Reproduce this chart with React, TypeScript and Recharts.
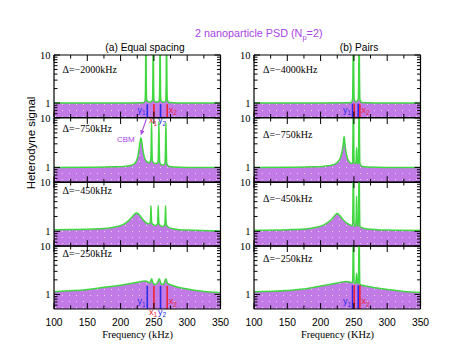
import { Area, ComposedChart, ReferenceLine, XAxis, YAxis } from "recharts"

// frequency grid (kHz) and heterodyne signal for each panel
const freqA1 = [100, 200, 230, 235, 236.8, 237.5, 238, 238.5, 239.2, 242, 245, 247.8, 248.5, 249, 249.5, 250.2, 253, 256, 258.1, 258.8, 259.3, 259.8, 260.5, 263, 266, 267.8, 268.5, 269, 269.5, 270.2, 273, 300, 350]
const sigA1 = [1, 1, 1.01, 1.03, 1.15, 3, 40, 3, 1.15, 1.05, 1.05, 1.15, 3, 40, 3, 1.15, 1.05, 1.05, 1.15, 3, 40, 3, 1.15, 1.05, 1.05, 1.15, 3, 40, 3, 1.15, 1.03, 1, 1]

const freqA2 = [100, 150, 190, 205, 215, 220, 224, 226, 228, 229.5, 230.5, 231.5, 233, 235, 237, 240, 243, 245.2, 245.9, 246.5, 247.1, 247.8, 251, 254, 256.2, 256.9, 257.5, 258.1, 258.8, 262, 265, 266.7, 267.4, 268, 268.6, 269.3, 272, 280, 300, 350]
const sigA2 = [1.0, 1.01, 1.03, 1.05, 1.09, 1.16, 1.38, 1.7, 2.5, 3.5, 4.0, 3.5, 2.5, 1.75, 1.45, 1.3, 1.25, 1.4, 2.5, 8.3, 2.5, 1.35, 1.2, 1.2, 1.3, 2.5, 8.5, 2.5, 1.25, 1.12, 1.12, 1.25, 2.5, 8.0, 2.5, 1.2, 1.06, 1.02, 1.0, 1.0]

const freqA3 = [100, 150, 180, 195, 205, 212, 218, 222, 224, 226, 230, 234, 238, 242, 244.4, 245.1, 245.6, 246.1, 246.8, 249, 252, 255.3, 256, 256.5, 257, 257.7, 260, 263, 266.3, 267, 267.5, 268, 268.7, 272, 280, 300, 350]
const sigA3 = [1.08, 1.1, 1.15, 1.25, 1.4, 1.65, 2.0, 2.3, 2.35, 2.3, 2.0, 1.7, 1.5, 1.42, 1.5, 2.1, 3.3, 2.1, 1.5, 1.36, 1.32, 1.42, 2.0, 3.3, 2.0, 1.42, 1.3, 1.25, 1.35, 1.95, 3.3, 1.95, 1.35, 1.2, 1.12, 1.06, 1.02]

const freqA4 = [100, 130, 150, 175, 200, 215, 225, 232, 237, 241, 244, 246.5, 249, 252, 255.5, 258, 260.5, 263, 265.5, 267.8, 270.5, 275, 285, 300, 320, 350]
const sigA4 = [1.14, 1.2, 1.27, 1.4, 1.55, 1.68, 1.78, 1.86, 1.9, 1.82, 1.72, 2.1, 1.68, 1.6, 1.75, 2.1, 1.7, 1.6, 1.72, 2.1, 1.7, 1.58, 1.42, 1.3, 1.18, 1.08]

const freqB1 = [100, 200, 240, 246, 248, 248.6, 249.2, 249.8, 250.4, 253, 256.6, 257.2, 257.8, 258.4, 259, 262, 300, 350]
const sigB1 = [1, 1, 1.01, 1.03, 1.2, 4, 40, 4, 1.2, 1.06, 1.2, 4, 40, 4, 1.2, 1.03, 1, 1]

const freqB2 = [100, 150, 190, 205, 215, 222, 227, 230, 232.5, 234, 235.3, 236.5, 238, 240.5, 243, 246, 248, 248.6, 249.2, 249.8, 250.4, 252.5, 253.4, 254, 254.6, 255.5, 256.6, 257.2, 257.8, 258.4, 259, 262, 270, 300, 350]
const sigB2 = [1.0, 1.01, 1.03, 1.06, 1.1, 1.18, 1.35, 1.6, 2.2, 3.0, 4.2, 3.0, 2.1, 1.5, 1.3, 1.2, 1.25, 4, 40, 4, 1.25, 1.2, 1.4, 2.5, 1.4, 1.2, 1.25, 4, 40, 4, 1.2, 1.06, 1.02, 1.0, 1.0]

const freqB3 = [100, 150, 180, 195, 205, 212, 218, 222, 225, 228, 232, 236, 240, 244, 248, 248.6, 249.2, 249.8, 250.4, 252.5, 253.4, 254, 254.6, 255.5, 256.6, 257.2, 257.8, 258.4, 259, 262, 270, 285, 300, 350]
const sigB3 = [1.05, 1.08, 1.13, 1.22, 1.35, 1.55, 1.85, 2.15, 2.3, 2.15, 1.85, 1.6, 1.45, 1.35, 1.3, 4, 40, 4, 1.3, 1.28, 1.8, 5.2, 1.8, 1.28, 1.28, 4, 40, 4, 1.25, 1.18, 1.12, 1.08, 1.06, 1.04]

const freqB4 = [100, 150, 180, 200, 215, 225, 232, 238, 243, 248, 248.6, 249.2, 249.8, 250.4, 252.5, 253.4, 254, 254.6, 255.5, 256.6, 257.2, 257.8, 258.4, 259, 262, 270, 285, 300, 325, 350]
const sigB4 = [1.14, 1.21, 1.32, 1.49, 1.62, 1.72, 1.8, 1.85, 1.8, 1.75, 4, 40, 4, 1.72, 1.7, 2.1, 2.7, 2.1, 1.7, 1.68, 4, 40, 4, 1.62, 1.55, 1.48, 1.35, 1.27, 1.15, 1.09]

const deltaA = ["−2000", "−750", "−450", "−250"]
const deltaB = ["−4000", "−750", "−450", "−250"]

// mode positions marked in the top and bottom panels
const markerFreqA = [240, 250, 260, 270]
const markerFreqB = [248, 250.5, 256.5, 259]
const markerNames = ["y1", "x1", "y2", "x2"]

const xTicks = [100, 125, 150, 175, 200, 225, 250, 275, 300, 325, 350]
const yTicks = [0.6, 0.7, 0.8, 0.9, 1, 2, 3, 4, 5, 6, 7, 8, 9, 10]

const SANS = "'Liberation Sans', Arial, Helvetica, sans-serif"
const SERIF = "'Liberation Serif', 'Times New Roman', serif"
const FILL = "#c27ae6"
const PURPLE = "#a843e6"
const GREEN = "#40d840"
const BLUE = "#2a2ae8"
const RED = "#ee2233"

const LEFTS = [54, 254]
const PW = 166.5
const TOPS = [55, 117.5, 181.8, 246]
const PH = [62.5, 64.3, 64.2, 63]
const deltaBaseA = [18, 14, 12.5, 11]
const deltaBaseB = [18, 20.5, 19.7, 15.5]

function XTickMark(props: any) {
  const { x, y, payload, side, labels } = props
  const major = payload.value % 50 === 0
  const len = major ? 6 : 3.5
  const d = side === "top" ? 1 : -1
  return (
    <g>
      <line x1={x} x2={x} y1={y} y2={y + d * len} stroke="#000" strokeWidth={1} />
      {labels && major && (
        <text x={x} y={y + 17} textAnchor="middle" fontFamily={SANS} fontSize={10.3} fill="#000">
          {payload.value}
        </text>
      )}
    </g>
  )
}

function YTickMark(props: any) {
  const { x, y, payload, side, labels } = props
  const v = payload.value
  const major = v === 1 || v === 10
  const len = major ? 6 : 3.5
  const d = side === "left" ? 1 : -1
  return (
    <g>
      <line x1={x} x2={x + d * len} y1={y} y2={y} stroke="#000" strokeWidth={1} />
      {labels && major && (
        <text x={x - 3.5} y={y} dy="0.36em" textAnchor="end" fontFamily={SERIF} fontSize={10.5} fill="#000">
          {v}
        </text>
      )}
    </g>
  )
}

function SubText({ x, y, name, color, anchor }: any) {
  return (
    <text x={x} y={y} fill={color} fontFamily={SANS} fontSize={9} textAnchor={anchor}>
      {name[0]}
      <tspan fontSize={6.5} dy={2.5}>
        {name[1]}
      </tspan>
    </text>
  )
}

function markerShape(name: string, idx: number, labelled: boolean) {
  const color = name[0] === "y" ? BLUE : RED
  return (p: any) => {
    const x = p.x1
    const top = Math.min(p.y1, p.y2)
    const bot = Math.max(p.y1, p.y2)
    let label = null
    if (labelled) {
      if (idx === 0) label = <SubText x={x - 1.5} y={bot - 5} name={name} color={color} anchor="end" />
      else if (idx === 3) label = <SubText x={x + 1.5} y={bot - 5} name={name} color={color} anchor="start" />
      else label = <SubText x={x - (idx === 1 ? 5 : 2.5)} y={bot + 5.5} name={name} color={color} anchor="start" />
    }
    return (
      <g>
        <line x1={x} x2={x} y1={top} y2={bot} stroke={color} strokeWidth={1.6} />
        {label}
      </g>
    )
  }
}

const cbmShape = (p: any) => {
  const { x1, y1, x2, y2 } = p
  const dx = x2 - x1
  const dy = y2 - y1
  const L = Math.hypot(dx, dy) || 1
  const ux = dx / L
  const uy = dy / L
  const bx = x2 - ux * 5
  const by = y2 - uy * 5
  const pts = `${x2},${y2} ${bx - uy * 2.2},${by + ux * 2.2} ${bx + uy * 2.2},${by - ux * 2.2}`
  return (
    <g>
      <line x1={x1} y1={y1} x2={bx} y2={by} stroke={PURPLE} strokeWidth={1.1} />
      <polygon points={pts} fill={PURPLE} />
      <text x={x2 - 6} y={y2 + 6.5} textAnchor="end" fontFamily={SANS} fontSize={8} fill={PURPLE}>
        CBM
      </text>
    </g>
  )
}

type PanelProps = {
  col: number
  row: number
  freq: number[]
  sig: number[]
  markers?: number[]
  markerTop?: number
  allLabels?: boolean
  cbm?: boolean
}

function Panel({ col, row, freq, sig, markers, markerTop, allLabels, cbm }: PanelProps) {
  const data = freq.map((f, i) => ({ f, s: sig[i] }))
  const id = `dots${col}${row}`
  const showX = row === 3
  const axisLine = { stroke: "#000", strokeWidth: 1.2 }
  return (
    <div style={{ position: "absolute", left: LEFTS[col] - 1, top: TOPS[row] - 1 }}>
      <ComposedChart width={PW + 2} height={PH[row] + 2} data={data} margin={{ top: 0, right: 0, bottom: 0, left: 0 }}>
        <defs>
          <pattern id={id} width="7" height="6" patternUnits="userSpaceOnUse">
            <rect width="7" height="6" fill={FILL} />
            <rect x="2" y="2" width="1" height="1" fill="#fff" opacity="0.65" />
          </pattern>
        </defs>
        <XAxis
          xAxisId={0}
          dataKey="f"
          type="number"
          domain={[100, 350]}
          allowDataOverflow
          ticks={xTicks}
          interval={0}
          height={1}
          tickSize={0}
          tickMargin={0}
          tickLine={false}
          axisLine={axisLine}
          tick={(p: any) => <XTickMark {...p} side="bottom" labels={showX} />}
        />
        <XAxis
          xAxisId="top"
          orientation="top"
          dataKey="f"
          type="number"
          domain={[100, 350]}
          allowDataOverflow
          ticks={xTicks}
          interval={0}
          height={1}
          tickSize={0}
          tickMargin={0}
          tickLine={false}
          axisLine={axisLine}
          tick={(p: any) => <XTickMark {...p} side="top" labels={false} />}
        />
        <YAxis
          yAxisId={0}
          type="number"
          scale="log"
          domain={[0.5, 10]}
          allowDataOverflow
          ticks={yTicks}
          interval={0}
          width={1}
          tickSize={0}
          tickMargin={0}
          tickLine={false}
          axisLine={axisLine}
          tick={(p: any) => <YTickMark {...p} side="left" labels />}
        />
        <YAxis
          yAxisId="right"
          orientation="right"
          type="number"
          scale="log"
          domain={[0.5, 10]}
          allowDataOverflow
          ticks={yTicks}
          interval={0}
          width={1}
          tickSize={0}
          tickMargin={0}
          tickLine={false}
          axisLine={axisLine}
          tick={(p: any) => <YTickMark {...p} side="right" labels={false} />}
        />
        <Area
          dataKey="s"
          type="monotone"
          stroke={GREEN}
          strokeWidth={1.5}
          fill={`url(#${id})`}
          fillOpacity={1}
          baseValue={0.5}
          dot={false}
          activeDot={false}
          isAnimationActive={false}
        />
        {markers &&
          markers.map((f, i) => (
            <ReferenceLine
              key={i}
              segment={[
                { x: f, y: 0.5 },
                { x: f, y: markerTop },
              ]}
              ifOverflow="visible"
              shape={markerShape(markerNames[i], i, allLabels ? true : i === 0 || i === 3)}
            />
          ))}
        {cbm && (
          <ReferenceLine
            segment={[
              { x: 238.7, y: 9.5 },
              { x: 230.3, y: 4.5 },
            ]}
            ifOverflow="visible"
            shape={cbmShape}
          />
        )}
      </ComposedChart>
    </div>
  )
}

export default function App() {
  return (
    <div style={{ position: "absolute", left: 0, top: 0, width: 471, height: 364, background: "#fff" }}>
      <style>{`.recharts-surface{overflow:visible}`}</style>
      <Panel col={0} row={0} freq={freqA1} sig={sigA1} markers={markerFreqA} markerTop={0.95} allLabels />
      <Panel col={0} row={1} freq={freqA2} sig={sigA2} cbm />
      <Panel col={0} row={2} freq={freqA3} sig={sigA3} />
      <Panel col={0} row={3} freq={freqA4} sig={sigA4} markers={markerFreqA} markerTop={1.5} allLabels />
      <Panel col={1} row={0} freq={freqB1} sig={sigB1} markers={markerFreqB} markerTop={0.97} />
      <Panel col={1} row={1} freq={freqB2} sig={sigB2} />
      <Panel col={1} row={2} freq={freqB3} sig={sigB3} />
      <Panel col={1} row={3} freq={freqB4} sig={sigB4} markers={markerFreqB} markerTop={1.55} />
      <svg width={471} height={364} style={{ position: "absolute", left: 0, top: 0, pointerEvents: "none" }}>
        <text x={195} y={36.5} fontFamily={SANS} fontSize={10.8} fill={PURPLE}>
          2 nanoparticle PSD (N
          <tspan fontSize={7.5} dy={3}>
            p
          </tspan>
          <tspan dy={-3}>=2)</tspan>
        </text>
        <text x={145} y={51} textAnchor="middle" fontFamily={SANS} fontSize={10.2} fill="#000">
          (a) Equal spacing
        </text>
        <text x={359} y={51} textAnchor="middle" fontFamily={SANS} fontSize={10.2} fill="#000">
          (b) Pairs
        </text>
        <text x={35} y={143} transform="rotate(-90 35 143)" textAnchor="middle" fontFamily={SANS} fontSize={11.5} fill="#000">
          Heterodyne signal
        </text>
        <text x={137.5} y={338} textAnchor="middle" fontFamily={SERIF} fontSize={10.4} fill="#000">
          Frequency (kHz)
        </text>
        <text x={337.5} y={338} textAnchor="middle" fontFamily={SERIF} fontSize={10.4} fill="#000">
          Frequency (KHz)
        </text>
        {deltaA.map((d, i) => (
          <text key={`a${i}`} x={62.5} y={TOPS[i] + deltaBaseA[i]} fontFamily={SERIF} fontSize={10} fill="#000">
            Δ={d}kHz
          </text>
        ))}
        {deltaB.map((d, i) => (
          <text key={`b${i}`} x={263} y={TOPS[i] + deltaBaseB[i]} fontFamily={SERIF} fontSize={10} fill="#000">
            Δ={d}kHz
          </text>
        ))}
      </svg>
    </div>
  )
}
